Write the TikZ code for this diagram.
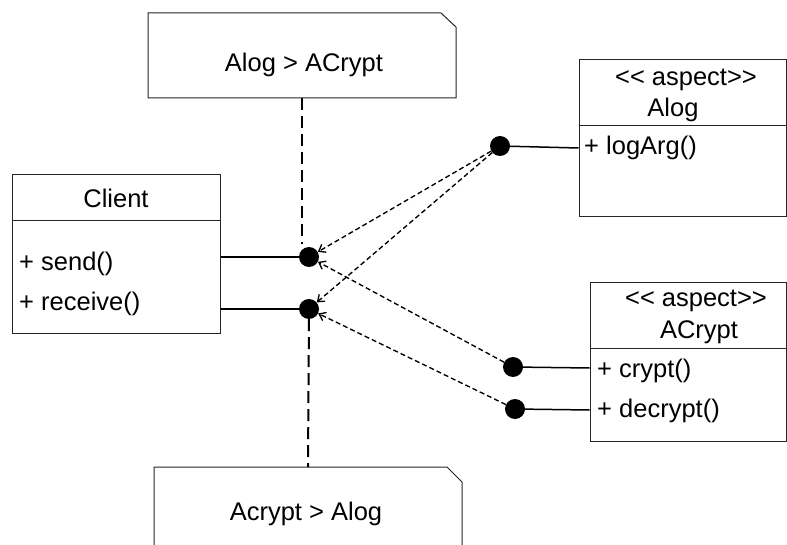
\documentclass[tikz,border=0pt]{standalone}
\usepackage{fontspec}
\setmainfont{Liberation Sans}
\usetikzlibrary{arrows.meta}
\begin{document}
\begin{tikzpicture}[x=1pt,y=-1pt,
  box/.style={draw=black!85, line width=1pt},
  lbl/.style={inner sep=0pt, anchor=base, font=\fontsize{25.5}{30}\selectfont},
  lblw/.style={inner sep=0pt, anchor=base west, font=\fontsize{25.5}{30}\selectfont},
  dot/.style={circle, fill=black, inner sep=0pt, minimum size=20pt},
  conn/.style={line width=1.5pt},
  vdash/.style={line width=2pt, dash pattern=on 12pt off 6pt},
  dep/.style={line width=1.35pt, dash pattern=on 5pt off 3pt, -{Straight Barb[length=6pt,width=9pt]}}
]
\useasboundingbox (0,0) rectangle (787,545);

% notes
\draw[box] (148,98) -- (148,13) -- (441,13) -- (456,27) -- (456,98) -- cycle;
\node[lbl] (noteA) at (304,72) {Alog > ACrypt};
\coordinate (noteAb) at (302,98);
\coordinate (noteAe) at (302,244);
\draw[box] (154,550) -- (154,467) -- (447,467) -- (462,482) -- (462,550);
\node[lbl] (noteB) at (306,520) {Acrypt > Alog};
\coordinate (noteBt) at (308,467);

% classes
\node[box, minimum width=208pt, minimum height=158pt, inner sep=0pt] (client) at (116,254) {};
\draw[box] (client.west |- 0,221) -- (client.east |- 0,221);
\node[lbl] (clientT) at (116,208) {Client};
\node[lblw] (send) at (19,271) {+ send()};
\node[lblw] (recv) at (19,310) {+ receive()};

\node[box, minimum width=207pt, minimum height=157pt, inner sep=0pt] (alog) at (682.5,138.5) {};
\draw[box] (alog.west |- 0,126) -- (alog.east |- 0,126);
\node[lbl] (alogS) at (686,86) {{<}{<} aspect{>}{>}};
\node[lbl] (alogT) at (673,117) {Alog};
\node[lblw] (logarg) at (584,155) {+ logArg()};

\node[box, minimum width=196pt, minimum height=158pt, inner sep=0pt] (acrypt) at (688,362) {};
\draw[box] (acrypt.west |- 0,348) -- (acrypt.east |- 0,348);
\node[lbl] (acryptS) at (696,307) {{<}{<} aspect{>}{>}};
\node[lbl] (acryptT) at (699,338) {ACrypt};
\node[lblw] (crypt) at (597,377) {+ crypt()};
\node[lblw] (decrypt) at (597,417) {+ decrypt()};

% dots
\node[dot] (d1) at (309,257) {};
\node[dot] (d2) at (309,309) {};
\node[dot] (da) at (500,146) {};
\node[dot] (dc) at (513,367) {};
\node[dot] (dd) at (515,409) {};

% connectors
\draw[conn] (client.east |- d1) -- (d1);
\draw[conn] (client.east |- d2) -- (d2);
\draw[conn] (da) -- (alog.west |- 0,148);
\draw[conn] (dc) -- (acrypt.west |- 0,368);
\draw[conn] (dd) -- (acrypt.west |- 0,410);

\draw[vdash] (noteAb) -- (noteAe);
\draw[vdash] (d2) -- (noteBt);

\draw[dep] (da) -- (d1);
\draw[dep] (da) -- (d2);
\draw[dep] (dc) -- (d1);
\draw[dep] (dd) -- (d2);
\end{tikzpicture}
\end{document}
